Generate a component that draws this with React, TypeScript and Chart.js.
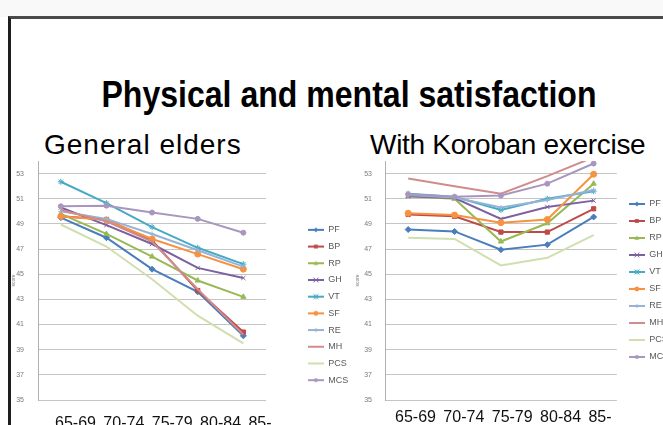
import React, { useEffect, useRef } from "react";
import { Chart, registerables } from "chart.js";

Chart.register(...registerables);

const categories = ["65-69", "70-74", "75-79", "80-84", "85-"];
const seriesLabels = ["PF", "BP", "RP", "GH", "VT", "SF", "RE", "MH", "PCS", "MCS"];
const yTickValues = [35, 37, 39, 41, 43, 45, 47, 49, 51, 53];
const Y_MIN = 35;
const Y_MAX = 54;

// General elders
const generalPF = [49.5, 47.9, 45.4, 43.6, 40.1];
const generalBP = [49.6, 49.35, 47.7, 43.7, 40.4];
const generalRP = [49.8, 48.2, 46.4, 44.5, 43.2];
const generalGH = [50.3, 48.9, 47.4, 45.5, 44.7];
const generalVT = [52.35, 50.65, 48.75, 47.1, 45.8];
const generalSF = [49.6, 49.3, 47.8, 46.6, 45.4];
const generalRE = [50.0, 49.4, 48.2, 46.9, 45.6];
const generalMH = [50.1, 49.2, 47.6, 43.8, 40.2];
const generalPCS = [48.95, 47.2, 44.6, 41.7, 39.5];
const generalMCS = [50.4, 50.45, 49.9, 49.4, 48.3];

// With Koroban exercise
const koroPF = [48.55, 48.4, 46.95, 47.35, 49.55];
const koroBP = [49.75, 49.6, 48.35, 48.35, 50.2];
const koroRP = [51.2, 51.0, 47.6, 49.05, 52.2];
const koroGH = [51.2, 51.05, 49.4, 50.35, 50.85];
const koroVT = [51.4, 51.15, 50.1, 51.0, 51.6];
const koroSF = [49.85, 49.7, 49.1, 49.35, 52.95];
const koroRE = [51.3, 51.1, 50.3, 50.9, 51.7];
const koroMH = [52.6, 52.0, 51.4, 52.8, 54.3];
const koroPCS = [47.9, 47.8, 45.7, 46.3, 48.1];
const koroMCS = [51.35, 51.15, 51.25, 52.2, 53.8];

const generalSeries = [generalPF, generalBP, generalRP, generalGH, generalVT, generalSF, generalRE, generalMH, generalPCS, generalMCS];
const koroSeries = [koroPF, koroBP, koroRP, koroGH, koroVT, koroSF, koroRE, koroMH, koroPCS, koroMCS];

const seriesColors = ["#4A7EBB", "#BE4B48", "#98B954", "#7D60A0", "#46AAC5", "#F69240", "#95B3D7", "#D08C8C", "#CFDFAE", "#A996BE"];
const seriesMarkers: (string | null)[] = ["rectRot", "rect", "triangle", "crossRot", "star", "circle", "cross", null, null, "circle"];
const seriesMarkerRadius = [3, 3, 3, 3, 3, 3, 2.5, 0, 0, 2.5];

function makeIcon(color: string, marker: string | null, r: number) {
  const c = document.createElement("canvas");
  c.width = 16;
  c.height = 8;
  const g = c.getContext("2d")!;
  g.strokeStyle = color;
  g.fillStyle = color;
  g.lineWidth = 2;
  g.beginPath();
  g.moveTo(0, 4);
  g.lineTo(16, 4);
  g.stroke();
  if (marker) {
    const x = 8, y = 4;
    g.lineWidth = 1;
    g.beginPath();
    switch (marker) {
      case "rectRot":
        g.moveTo(x, y - r); g.lineTo(x + r, y); g.lineTo(x, y + r); g.lineTo(x - r, y); g.closePath(); g.fill();
        break;
      case "rect":
        g.rect(x - r * 0.8, y - r * 0.8, r * 1.6, r * 1.6); g.fill();
        break;
      case "triangle":
        g.moveTo(x, y - r); g.lineTo(x + r, y + r * 0.7); g.lineTo(x - r, y + r * 0.7); g.closePath(); g.fill();
        break;
      case "crossRot":
        g.moveTo(x - r, y - r); g.lineTo(x + r, y + r); g.moveTo(x + r, y - r); g.lineTo(x - r, y + r); g.stroke();
        break;
      case "star":
        g.moveTo(x - r, y - r); g.lineTo(x + r, y + r); g.moveTo(x + r, y - r); g.lineTo(x - r, y + r);
        g.moveTo(x, y - r); g.lineTo(x, y + r); g.stroke();
        break;
      case "cross":
        g.moveTo(x - r, y); g.lineTo(x + r, y); g.moveTo(x, y - r); g.lineTo(x, y + r); g.stroke();
        break;
      case "circle":
        g.arc(x, y, r, 0, Math.PI * 2); g.fill();
        break;
    }
  }
  return c;
}

type Cfg = {
  padTop: number;
  xAxisH: number;
  yAxisW: number;
  spacerW: number;
  legendFull: boolean;
  legendPad: number;
  tickLen: number;
};

function LineChart(props: { series: number[][]; left: number; top: number; width: number; height: number; cfg: Cfg }) {
  const ref = useRef<HTMLCanvasElement>(null);
  const { series, left, top, width, height, cfg } = props;
  useEffect(() => {
    const icons = seriesLabels.map((_, i) => makeIcon(seriesColors[i], seriesMarkers[i], seriesMarkerRadius[i] * 0.8));
    const chart = new Chart(ref.current!, {
      type: "line",
      data: {
        labels: categories,
        datasets: series.map((d, i) => ({
          label: seriesLabels[i],
          data: d,
          borderColor: seriesColors[i],
          backgroundColor: seriesColors[i],
          borderWidth: 2,
          pointStyle: (seriesMarkers[i] || "circle") as any,
          pointRadius: seriesMarkerRadius[i],
          pointBorderWidth: 1,
          pointBorderColor: seriesColors[i],
          pointBackgroundColor: seriesColors[i],
          tension: 0,
          order: seriesLabels.length - i,
        })),
      },
      options: {
        responsive: false,
        maintainAspectRatio: false,
        animation: false,
        devicePixelRatio: 1,
        layout: { padding: { top: cfg.padTop, bottom: 0, left: 0, right: 0 } },
        plugins: {
          tooltip: { enabled: false },
          legend: {
            position: "right",
            fullSize: cfg.legendFull,
            labels: {
              usePointStyle: true,
              pointStyleWidth: 16,
              padding: cfg.legendPad,
              font: { size: 9, family: "'Liberation Sans', Arial, sans-serif" },
              color: "#595959",
              generateLabels: (ch: any) =>
                ch.data.datasets.map((ds: any, i: number) => ({
                  text: ds.label,
                  pointStyle: icons[i],
                  fillStyle: ds.borderColor,
                  strokeStyle: ds.borderColor,
                  lineWidth: 0,
                  hidden: false,
                  datasetIndex: i,
                  fontColor: "#595959",
                })),
            },
          },
        },
        scales: {
          x: {
            type: "category",
            offset: true,
            grid: { display: false, drawTicks: false },
            border: { display: false },
            ticks: { display: false },
            afterFit: (s: any) => {
              s.height = cfg.xAxisH;
            },
          },
          y: {
            min: Y_MIN,
            max: Y_MAX,
            afterBuildTicks: (s: any) => {
              s.ticks = yTickValues.map((v) => ({ value: v }));
            },
            ticks: {
              font: { size: 7, family: "'Liberation Sans', Arial, sans-serif" },
              color: "#7a7a7a",
              padding: 0,
            },
            grid: { color: "#c4c4c4", lineWidth: 1, drawTicks: true, tickLength: cfg.tickLen, tickColor: "rgba(0,0,0,0)" },
            border: { display: true, color: "#b0b0b0" },
            title: {
              display: true,
              text: "score",
              font: { size: 5, family: "'Liberation Sans', Arial, sans-serif" },
              color: "#7a7a7a",
              padding: 0,
            },
            afterFit: (s: any) => {
              s.width = cfg.yAxisW;
            },
          },
          spacer: {
            type: "linear",
            position: "right",
            display: true,
            grid: { display: false },
            border: { display: false },
            ticks: { display: false },
            title: { display: false },
            afterFit: (s: any) => {
              s.width = cfg.spacerW;
            },
          },
        },
      } as any,
    });
    return () => chart.destroy();
  }, []);
  return (
    <canvas
      ref={ref}
      width={width}
      height={height}
      style={{ position: "absolute", left, top, width, height }}
    />
  );
}

const labelRowText = categories.join(" ");

export default function App() {
  return (
    <div
      style={{
        position: "absolute",
        left: 0,
        top: 0,
        width: 663,
        height: 425,
        overflow: "hidden",
        background: "#ffffff",
        fontFamily: "'Liberation Sans', Arial, sans-serif",
      }}
    >
      <div style={{ position: "absolute", left: 0, top: 0, width: 663, height: 17, background: "#f9f9f9" }} />
      <div
        style={{
          position: "absolute",
          left: 8,
          top: 16,
          width: 700,
          height: 500,
          borderTop: "3px solid #4a4a4a",
          borderLeft: "3px solid #1e1e1e",
          background: "#ffffff",
        }}
      />
      <div
        style={{
          position: "absolute",
          left: 0,
          width: 698,
          top: 77,
          fontWeight: "bold",
          fontSize: 36,
          lineHeight: "36px",
          textAlign: "center",
          color: "#000",
          whiteSpace: "nowrap",
          transform: "scaleX(0.89)",
          transformOrigin: "349px 0px",
        }}
      >
        Physical and mental satisfaction
      </div>
      <div style={{ position: "absolute", left: 44, top: 131, fontSize: 28, lineHeight: "28px", letterSpacing: 1, color: "#000", whiteSpace: "nowrap" }}>
        General elders
      </div>
      <div style={{ position: "absolute", left: 370, top: 131, fontSize: 28, lineHeight: "28px", letterSpacing: -0.3, color: "#000", whiteSpace: "nowrap" }}>
        With Koroban exercise
      </div>

      <LineChart
        series={generalSeries}
        left={11}
        top={150}
        width={347}
        height={299}
        cfg={{ padTop: 11, xAxisH: 49, yAxisW: 27, spacerW: 34, legendFull: true, legendPad: 7.7, tickLen: 14 }}
      />
      <LineChart
        series={koroSeries}
        left={355}
        top={150}
        width={319}
        height={260}
        cfg={{ padTop: 11, xAxisH: 10, yAxisW: 30, spacerW: 4, legendFull: false, legendPad: 8, tickLen: 13 }}
      />

      <div style={{ position: "absolute", left: 55, top: 415, fontSize: 16, lineHeight: "16px", wordSpacing: 3, color: "#111", whiteSpace: "nowrap" }}>
        {labelRowText}
      </div>
      <div style={{ position: "absolute", left: 395, top: 409, fontSize: 16, lineHeight: "16px", wordSpacing: 3, color: "#111", whiteSpace: "nowrap" }}>
        {labelRowText}
      </div>
    </div>
  );
}
